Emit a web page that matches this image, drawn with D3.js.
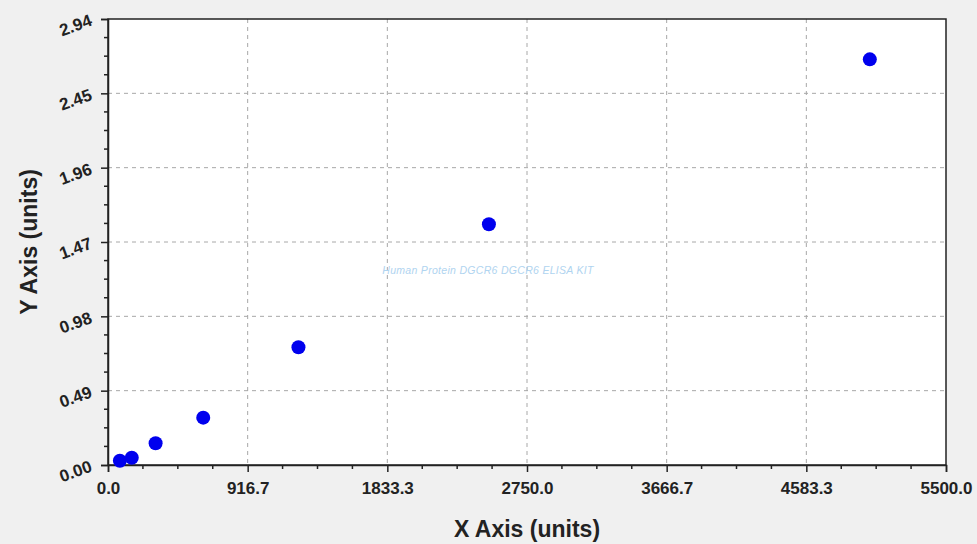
<!DOCTYPE html>
<html>
<head>
<meta charset="utf-8">
<script src="https://cdn.jsdelivr.net/npm/d3@7"></script>
<style>
    html, body { margin: 0; padding: 0; background: #f0f0f0; }
    svg { display: block; }
</style>
</head>
<body>
<div id="chart"></div>
<script>
// standard curve points
var concentrations = [78, 156, 312.5, 625, 1250, 2500, 5000];
var odValues = [0.028, 0.048, 0.143, 0.312, 0.776, 1.587, 2.674];

var xTicks = [0, 916.7, 1833.3, 2750.0, 3666.7, 4583.3, 5500.0];
var yTicks = [0, 0.49, 0.98, 1.47, 1.96, 2.45, 2.94];

var xTitle = "X Axis (units)";
var yTitle = "Y Axis (units)";
var watermark = "Human Protein DGCR6 DGCR6 ELISA KIT";

var W = 977, H = 544;
var margin = {top: 19, right: 31, bottom: 79, left: 108};
var width = W - margin.left - margin.right;
var height = H - margin.top - margin.bottom;

var svg = d3.select("#chart").append("svg")
    .attr("width", W)
    .attr("height", H);

svg.append("rect")
    .attr("width", W).attr("height", H)
    .attr("fill", "#f0f0f0");

var g = svg.append("g")
    .attr("transform", "translate(" + margin.left + "," + margin.top + ")");

var x = d3.scaleLinear().domain([0, 5500]).range([0, width]);
var y = d3.scaleLinear().domain([0, 2.94]).range([height, 0]);

// plot background
g.append("rect")
    .attr("width", width).attr("height", height)
    .attr("fill", "white");

// minor ticks: 4 subdivisions per major interval
var xMinor = [], yMinor = [];
for (var i = 0; i < xTicks.length - 1; i++) {
    for (var k = 1; k < 4; k++) {
        xMinor.push(5500 / 6 * (i + k / 4));
        yMinor.push(0.49 * (i + k / 4));
    }
}

// dashed grid
g.append("g").selectAll("line")
    .data(xTicks.slice(1, -1))
    .enter().append("line")
        .attr("x1", function(d){ return x(d); })
        .attr("x2", function(d){ return x(d); })
        .attr("y1", 0).attr("y2", height)
        .attr("stroke", "#a8a8a8")
        .attr("stroke-width", 1)
        .attr("stroke-dasharray", "4,4");

g.append("g").selectAll("line")
    .data(yTicks.slice(1, -1))
    .enter().append("line")
        .attr("y1", function(d){ return y(d); })
        .attr("y2", function(d){ return y(d); })
        .attr("x1", 0).attr("x2", width)
        .attr("stroke", "#a8a8a8")
        .attr("stroke-width", 1)
        .attr("stroke-dasharray", "4,4");

// watermark
g.append("text")
    .attr("x", 380)
    .attr("y", 255)
    .attr("text-anchor", "middle")
    .attr("font-family", "Liberation Sans, Arial, sans-serif")
    .attr("font-style", "italic")
    .attr("font-size", "10.5px")
    .attr("letter-spacing", "0.3px")
    .attr("fill", "#b0d4f0")
    .text(watermark);

// frame
g.append("rect")
    .attr("width", width).attr("height", height)
    .attr("fill", "none")
    .attr("stroke", "#222")
    .attr("stroke-width", 1.5);

// axes
var xAxis = d3.axisBottom(x)
    .tickValues(xTicks)
    .tickFormat(d3.format(".1f"))
    .tickSize(7)
    .tickPadding(10);

var yAxis = d3.axisLeft(y)
    .tickValues(yTicks)
    .tickFormat(d3.format(".2f"))
    .tickSize(7)
    .tickPadding(10);

var xg = g.append("g")
    .attr("transform", "translate(0," + height + ")")
    .call(xAxis);

var yg = g.append("g")
    .call(yAxis);

[xg, yg].forEach(function(a) {
    a.select(".domain").attr("stroke", "#222").attr("stroke-width", 1.5);
    a.selectAll(".tick line").attr("stroke", "#222").attr("stroke-width", 1.5);
    a.selectAll(".tick text")
        .attr("fill", "#222")
        .attr("font-family", "Liberation Sans, Arial, sans-serif")
        .attr("font-weight", "bold")
        .attr("font-size", "17px");
});

// rotated y labels
yg.selectAll(".tick text")
    .attr("dy", "0.35em")
    .attr("transform", "rotate(-20,-17,0)");

// minor ticks
g.append("g").selectAll("line")
    .data(xMinor)
    .enter().append("line")
        .attr("x1", function(d){ return x(d); })
        .attr("x2", function(d){ return x(d); })
        .attr("y1", height).attr("y2", height + 4)
        .attr("stroke", "#222").attr("stroke-width", 1.5);

g.append("g").selectAll("line")
    .data(yMinor)
    .enter().append("line")
        .attr("y1", function(d){ return y(d); })
        .attr("y2", function(d){ return y(d); })
        .attr("x1", 0).attr("x2", -4)
        .attr("stroke", "#222").attr("stroke-width", 1.5);

// points
g.append("g").selectAll("circle")
    .data(concentrations)
    .enter().append("circle")
        .attr("cx", function(d){ return x(d); })
        .attr("cy", function(d, i){ return y(odValues[i]); })
        .attr("r", 7)
        .attr("fill", "#0000ee");

// axis titles
svg.append("text")
    .attr("x", margin.left + width / 2)
    .attr("y", 537)
    .attr("text-anchor", "middle")
    .attr("font-family", "Liberation Sans, Arial, sans-serif")
    .attr("font-weight", "bold")
    .attr("font-size", "23px")
    .attr("fill", "#222")
    .text(xTitle);

svg.append("text")
    .attr("transform", "translate(37," + (margin.top + height / 2) + ") rotate(-90)")
    .attr("text-anchor", "middle")
    .attr("font-family", "Liberation Sans, Arial, sans-serif")
    .attr("font-weight", "bold")
    .attr("font-size", "23px")
    .attr("fill", "#222")
    .text(yTitle);
</script>
</body>
</html>
